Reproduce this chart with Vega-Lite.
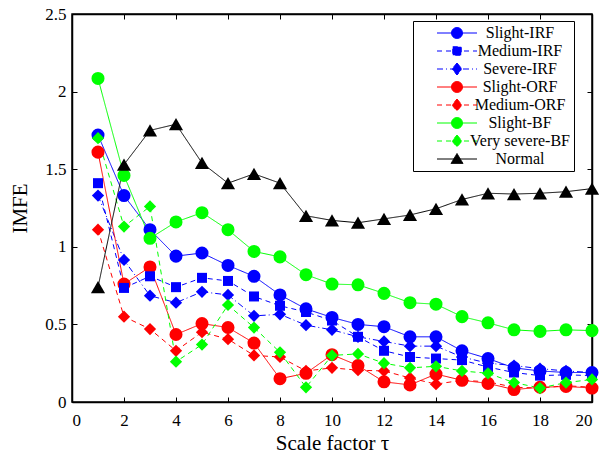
{
  "$schema": "https://vega.github.io/schema/vega-lite/v6.json",
  "width": 520,
  "height": 388,
  "autosize": {"type": "none"},
  "padding": {"left": 72, "top": 14, "right": 7, "bottom": 55},
  "config": {
    "font": "Liberation Serif, Times New Roman, serif",
    "view": {"stroke": "black", "strokeWidth": 1.5},
    "axis": {
      "grid": false,
      "domainColor": "black",
      "domainWidth": 1.5,
      "tickColor": "black",
      "tickSize": -5,
      "tickWidth": 1,
      "labelColor": "black",
      "labelFont": "Liberation Serif, Times New Roman, serif",
      "labelFontSize": 17,
      "titleFont": "Liberation Serif, Times New Roman, serif",
      "titleFontSize": 21,
      "titleFontWeight": "normal",
      "titleColor": "black"
    },
    "legend": {
      "labelFont": "Liberation Serif, Times New Roman, serif"
    }
  },
  "data": {
    "values": [
      {"series": "Slight-IRF", "tau": 1, "imfe": 1.72}, {"series": "Slight-IRF", "tau": 2, "imfe": 1.33}, {"series": "Slight-IRF", "tau": 3, "imfe": 1.11}, {"series": "Slight-IRF", "tau": 4, "imfe": 0.94}, {"series": "Slight-IRF", "tau": 5, "imfe": 0.96}, {"series": "Slight-IRF", "tau": 6, "imfe": 0.88}, {"series": "Slight-IRF", "tau": 7, "imfe": 0.81}, {"series": "Slight-IRF", "tau": 8, "imfe": 0.69}, {"series": "Slight-IRF", "tau": 9, "imfe": 0.6}, {"series": "Slight-IRF", "tau": 10, "imfe": 0.545}, {"series": "Slight-IRF", "tau": 11, "imfe": 0.5}, {"series": "Slight-IRF", "tau": 12, "imfe": 0.485}, {"series": "Slight-IRF", "tau": 13, "imfe": 0.42}, {"series": "Slight-IRF", "tau": 14, "imfe": 0.42}, {"series": "Slight-IRF", "tau": 15, "imfe": 0.33}, {"series": "Slight-IRF", "tau": 16, "imfe": 0.28}, {"series": "Slight-IRF", "tau": 17, "imfe": 0.22}, {"series": "Slight-IRF", "tau": 18, "imfe": 0.2}, {"series": "Slight-IRF", "tau": 19, "imfe": 0.19}, {"series": "Slight-IRF", "tau": 20, "imfe": 0.19},
      {"series": "Medium-IRF", "tau": 1, "imfe": 1.41}, {"series": "Medium-IRF", "tau": 2, "imfe": 0.735}, {"series": "Medium-IRF", "tau": 3, "imfe": 0.81}, {"series": "Medium-IRF", "tau": 4, "imfe": 0.74}, {"series": "Medium-IRF", "tau": 5, "imfe": 0.8}, {"series": "Medium-IRF", "tau": 6, "imfe": 0.78}, {"series": "Medium-IRF", "tau": 7, "imfe": 0.68}, {"series": "Medium-IRF", "tau": 8, "imfe": 0.62}, {"series": "Medium-IRF", "tau": 9, "imfe": 0.58}, {"series": "Medium-IRF", "tau": 10, "imfe": 0.525}, {"series": "Medium-IRF", "tau": 11, "imfe": 0.42}, {"series": "Medium-IRF", "tau": 12, "imfe": 0.33}, {"series": "Medium-IRF", "tau": 13, "imfe": 0.29}, {"series": "Medium-IRF", "tau": 14, "imfe": 0.28}, {"series": "Medium-IRF", "tau": 15, "imfe": 0.27}, {"series": "Medium-IRF", "tau": 16, "imfe": 0.225}, {"series": "Medium-IRF", "tau": 17, "imfe": 0.19}, {"series": "Medium-IRF", "tau": 18, "imfe": 0.17}, {"series": "Medium-IRF", "tau": 19, "imfe": 0.175}, {"series": "Medium-IRF", "tau": 20, "imfe": 0.17},
      {"series": "Severe-IRF", "tau": 1, "imfe": 1.33}, {"series": "Severe-IRF", "tau": 2, "imfe": 0.915}, {"series": "Severe-IRF", "tau": 3, "imfe": 0.685}, {"series": "Severe-IRF", "tau": 4, "imfe": 0.64}, {"series": "Severe-IRF", "tau": 5, "imfe": 0.71}, {"series": "Severe-IRF", "tau": 6, "imfe": 0.69}, {"series": "Severe-IRF", "tau": 7, "imfe": 0.555}, {"series": "Severe-IRF", "tau": 8, "imfe": 0.565}, {"series": "Severe-IRF", "tau": 9, "imfe": 0.495}, {"series": "Severe-IRF", "tau": 10, "imfe": 0.465}, {"series": "Severe-IRF", "tau": 11, "imfe": 0.42}, {"series": "Severe-IRF", "tau": 12, "imfe": 0.39}, {"series": "Severe-IRF", "tau": 13, "imfe": 0.36}, {"series": "Severe-IRF", "tau": 14, "imfe": 0.36}, {"series": "Severe-IRF", "tau": 15, "imfe": 0.29}, {"series": "Severe-IRF", "tau": 16, "imfe": 0.25}, {"series": "Severe-IRF", "tau": 17, "imfe": 0.235}, {"series": "Severe-IRF", "tau": 18, "imfe": 0.215}, {"series": "Severe-IRF", "tau": 19, "imfe": 0.2}, {"series": "Severe-IRF", "tau": 20, "imfe": 0.19},
      {"series": "Slight-ORF", "tau": 1, "imfe": 1.61}, {"series": "Slight-ORF", "tau": 2, "imfe": 0.76}, {"series": "Slight-ORF", "tau": 3, "imfe": 0.87}, {"series": "Slight-ORF", "tau": 4, "imfe": 0.435}, {"series": "Slight-ORF", "tau": 5, "imfe": 0.505}, {"series": "Slight-ORF", "tau": 6, "imfe": 0.48}, {"series": "Slight-ORF", "tau": 7, "imfe": 0.38}, {"series": "Slight-ORF", "tau": 8, "imfe": 0.15}, {"series": "Slight-ORF", "tau": 9, "imfe": 0.185}, {"series": "Slight-ORF", "tau": 10, "imfe": 0.305}, {"series": "Slight-ORF", "tau": 11, "imfe": 0.235}, {"series": "Slight-ORF", "tau": 12, "imfe": 0.13}, {"series": "Slight-ORF", "tau": 13, "imfe": 0.11}, {"series": "Slight-ORF", "tau": 14, "imfe": 0.18}, {"series": "Slight-ORF", "tau": 15, "imfe": 0.14}, {"series": "Slight-ORF", "tau": 16, "imfe": 0.12}, {"series": "Slight-ORF", "tau": 17, "imfe": 0.08}, {"series": "Slight-ORF", "tau": 18, "imfe": 0.095}, {"series": "Slight-ORF", "tau": 19, "imfe": 0.1}, {"series": "Slight-ORF", "tau": 20, "imfe": 0.09},
      {"series": "Medium-ORF", "tau": 1, "imfe": 1.11}, {"series": "Medium-ORF", "tau": 2, "imfe": 0.55}, {"series": "Medium-ORF", "tau": 3, "imfe": 0.47}, {"series": "Medium-ORF", "tau": 4, "imfe": 0.33}, {"series": "Medium-ORF", "tau": 5, "imfe": 0.45}, {"series": "Medium-ORF", "tau": 6, "imfe": 0.405}, {"series": "Medium-ORF", "tau": 7, "imfe": 0.3}, {"series": "Medium-ORF", "tau": 8, "imfe": 0.29}, {"series": "Medium-ORF", "tau": 9, "imfe": 0.2}, {"series": "Medium-ORF", "tau": 10, "imfe": 0.22}, {"series": "Medium-ORF", "tau": 11, "imfe": 0.205}, {"series": "Medium-ORF", "tau": 12, "imfe": 0.2}, {"series": "Medium-ORF", "tau": 13, "imfe": 0.155}, {"series": "Medium-ORF", "tau": 14, "imfe": 0.115}, {"series": "Medium-ORF", "tau": 15, "imfe": 0.14}, {"series": "Medium-ORF", "tau": 16, "imfe": 0.13}, {"series": "Medium-ORF", "tau": 17, "imfe": 0.095}, {"series": "Medium-ORF", "tau": 18, "imfe": 0.09}, {"series": "Medium-ORF", "tau": 19, "imfe": 0.105}, {"series": "Medium-ORF", "tau": 20, "imfe": 0.095},
      {"series": "Slight-BF", "tau": 1, "imfe": 2.085}, {"series": "Slight-BF", "tau": 2, "imfe": 1.46}, {"series": "Slight-BF", "tau": 3, "imfe": 1.055}, {"series": "Slight-BF", "tau": 4, "imfe": 1.16}, {"series": "Slight-BF", "tau": 5, "imfe": 1.22}, {"series": "Slight-BF", "tau": 6, "imfe": 1.11}, {"series": "Slight-BF", "tau": 7, "imfe": 0.97}, {"series": "Slight-BF", "tau": 8, "imfe": 0.935}, {"series": "Slight-BF", "tau": 9, "imfe": 0.82}, {"series": "Slight-BF", "tau": 10, "imfe": 0.76}, {"series": "Slight-BF", "tau": 11, "imfe": 0.755}, {"series": "Slight-BF", "tau": 12, "imfe": 0.7}, {"series": "Slight-BF", "tau": 13, "imfe": 0.64}, {"series": "Slight-BF", "tau": 14, "imfe": 0.63}, {"series": "Slight-BF", "tau": 15, "imfe": 0.55}, {"series": "Slight-BF", "tau": 16, "imfe": 0.51}, {"series": "Slight-BF", "tau": 17, "imfe": 0.465}, {"series": "Slight-BF", "tau": 18, "imfe": 0.455}, {"series": "Slight-BF", "tau": 19, "imfe": 0.465}, {"series": "Slight-BF", "tau": 20, "imfe": 0.46},
      {"series": "Very severe-BF", "tau": 1, "imfe": 1.7}, {"series": "Very severe-BF", "tau": 2, "imfe": 1.13}, {"series": "Very severe-BF", "tau": 3, "imfe": 1.26}, {"series": "Very severe-BF", "tau": 4, "imfe": 0.26}, {"series": "Very severe-BF", "tau": 5, "imfe": 0.37}, {"series": "Very severe-BF", "tau": 6, "imfe": 0.625}, {"series": "Very severe-BF", "tau": 7, "imfe": 0.48}, {"series": "Very severe-BF", "tau": 8, "imfe": 0.32}, {"series": "Very severe-BF", "tau": 9, "imfe": 0.095}, {"series": "Very severe-BF", "tau": 10, "imfe": 0.3}, {"series": "Very severe-BF", "tau": 11, "imfe": 0.31}, {"series": "Very severe-BF", "tau": 12, "imfe": 0.25}, {"series": "Very severe-BF", "tau": 13, "imfe": 0.22}, {"series": "Very severe-BF", "tau": 14, "imfe": 0.23}, {"series": "Very severe-BF", "tau": 15, "imfe": 0.2}, {"series": "Very severe-BF", "tau": 16, "imfe": 0.185}, {"series": "Very severe-BF", "tau": 17, "imfe": 0.125}, {"series": "Very severe-BF", "tau": 18, "imfe": 0.09}, {"series": "Very severe-BF", "tau": 19, "imfe": 0.125}, {"series": "Very severe-BF", "tau": 20, "imfe": 0.145},
      {"series": "Normal", "tau": 1, "imfe": 0.74}, {"series": "Normal", "tau": 2, "imfe": 1.53}, {"series": "Normal", "tau": 3, "imfe": 1.75}, {"series": "Normal", "tau": 4, "imfe": 1.79}, {"series": "Normal", "tau": 5, "imfe": 1.54}, {"series": "Normal", "tau": 6, "imfe": 1.41}, {"series": "Normal", "tau": 7, "imfe": 1.47}, {"series": "Normal", "tau": 8, "imfe": 1.41}, {"series": "Normal", "tau": 9, "imfe": 1.2}, {"series": "Normal", "tau": 10, "imfe": 1.17}, {"series": "Normal", "tau": 11, "imfe": 1.155}, {"series": "Normal", "tau": 12, "imfe": 1.18}, {"series": "Normal", "tau": 13, "imfe": 1.205}, {"series": "Normal", "tau": 14, "imfe": 1.245}, {"series": "Normal", "tau": 15, "imfe": 1.305}, {"series": "Normal", "tau": 16, "imfe": 1.345}, {"series": "Normal", "tau": 17, "imfe": 1.34}, {"series": "Normal", "tau": 18, "imfe": 1.345}, {"series": "Normal", "tau": 19, "imfe": 1.355}, {"series": "Normal", "tau": 20, "imfe": 1.375}
    ]
  },
  "encoding": {
    "x": {"field": "tau", "type": "quantitative", "scale": {"domain": [0, 20], "nice": false}},
    "y": {"field": "imfe", "type": "quantitative", "scale": {"domain": [0, 2.5], "nice": false}},
    "color": {
      "field": "series", "type": "nominal",
      "scale": {
        "domain": ["Slight-IRF", "Medium-IRF", "Severe-IRF", "Slight-ORF", "Medium-ORF", "Slight-BF", "Very severe-BF", "Normal"],
        "range": ["#0000ff", "#0000ff", "#0000ff", "#ff0000", "#ff0000", "#00ff00", "#00ff00", "#000000"]
      }
    }
  },
  "layer": [
    {
      "mark": {"type": "line", "strokeWidth": 1},
      "encoding": {
        "x": {"field": "tau", "type": "quantitative", "title": "Scale factor τ",
              "axis": {"orient": "bottom", "values": [0, 2, 4, 6, 8, 10, 12, 14, 16, 18, 20], "labelPadding": 15, "titlePadding": 4}},
        "y": {"field": "imfe", "type": "quantitative", "title": "IMFE",
              "axis": {"orient": "left", "values": [0, 0.5, 1, 1.5, 2, 2.5], "format": "~g", "labelPadding": 11, "titlePadding": 14}},
        "strokeDash": {
          "field": "series", "type": "nominal",
          "scale": {
            "domain": ["Slight-IRF", "Medium-IRF", "Severe-IRF", "Slight-ORF", "Medium-ORF", "Slight-BF", "Very severe-BF", "Normal"],
            "range": [[1, 0], [5, 4], [6, 3, 1, 3], [1, 0], [5, 4], [1, 0], [5, 4], [1, 0]]
          },
          "legend": null
        },
        "color": {
          "field": "series", "type": "nominal",
          "legend": {
            "title": null,
            "orient": "none",
            "legendX": 341,
            "legendY": 7,
            "direction": "vertical",
            "strokeColor": "black",
            "fillColor": "white",
            "padding": 4,
            "labelFontSize": 16,
            "labelColor": "black",
            "labelAlign": "center",
            "labelOffset": 55,
            "symbolSize": 100,
            "symbolOffset": 32,
            "rowPadding": 2,
            "symbolStrokeWidth": 1,
            "encode": {
              "symbols": {
                "update": {
                  "shape": {"signal": "datum.value === 'Normal' ? 'M-4,0H4M0,-1.1L1.2,0.9H-1.2Z' : (datum.value === 'Medium-IRF' ? 'M-4,0H4M-0.85,-0.85H0.85V0.85H-0.85Z' : (indexof(['Severe-IRF','Medium-ORF','Very severe-BF'], datum.value) >= 0 ? 'M-4,0H4M0,-1.2L1,0L0,1.2L-1,0Z' : 'M-4,0H4M1.1,0A1.1,1.1,0,1,1,-1.1,0A1.1,1.1,0,1,1,1.1,0Z'))"},
                  "fill": {"scale": "color", "field": "value"},
                  "stroke": {"scale": "color", "field": "value"},
                  "strokeDash": {"signal": "indexof(['Medium-IRF','Medium-ORF','Very severe-BF'], datum.value) >= 0 ? [5,4] : (datum.value === 'Severe-IRF' ? [6,3,1,3] : [1,0])"},
                  "opacity": {"value": 1}
                }
              }
            }
          }
        }
      }
    },
    {
      "transform": [{"filter": {"field": "series", "oneOf": ["Slight-IRF", "Slight-ORF", "Slight-BF"]}}],
      "mark": {"type": "point", "shape": "circle", "filled": true, "opacity": 1, "size": 170},
      "encoding": {
        "x": {"field": "tau", "type": "quantitative",
              "axis": {"orient": "top", "values": [0, 2, 4, 6, 8, 10, 12, 14, 16, 18, 20], "labels": false, "title": null}},
        "y": {"field": "imfe", "type": "quantitative",
              "axis": {"orient": "right", "values": [0, 0.5, 1, 1.5, 2, 2.5], "labels": false, "title": null}},
        "color": {"field": "series", "type": "nominal", "legend": null}
      }
    },
    {
      "transform": [{"filter": {"field": "series", "equal": "Medium-IRF"}}],
      "mark": {"type": "point", "shape": "square", "filled": true, "opacity": 1, "size": 100},
      "encoding": {
        "x": {"field": "tau", "type": "quantitative", "axis": null},
        "y": {"field": "imfe", "type": "quantitative", "axis": null},
        "color": {"field": "series", "type": "nominal", "legend": null}
      }
    },
    {
      "transform": [{"filter": {"field": "series", "oneOf": ["Severe-IRF", "Medium-ORF", "Very severe-BF"]}}],
      "mark": {"type": "point", "shape": "diamond", "filled": true, "opacity": 1, "size": 150},
      "encoding": {
        "x": {"field": "tau", "type": "quantitative", "axis": null},
        "y": {"field": "imfe", "type": "quantitative", "axis": null},
        "color": {"field": "series", "type": "nominal", "legend": null}
      }
    },
    {
      "transform": [{"filter": {"field": "series", "equal": "Normal"}}],
      "mark": {"type": "point", "shape": "triangle-up", "filled": true, "opacity": 1, "size": 200},
      "encoding": {
        "x": {"field": "tau", "type": "quantitative", "axis": null},
        "y": {"field": "imfe", "type": "quantitative", "axis": null},
        "color": {"field": "series", "type": "nominal", "legend": null}
      }
    }
  ],
  "resolve": {"axis": {"x": "independent", "y": "independent"}}
}
